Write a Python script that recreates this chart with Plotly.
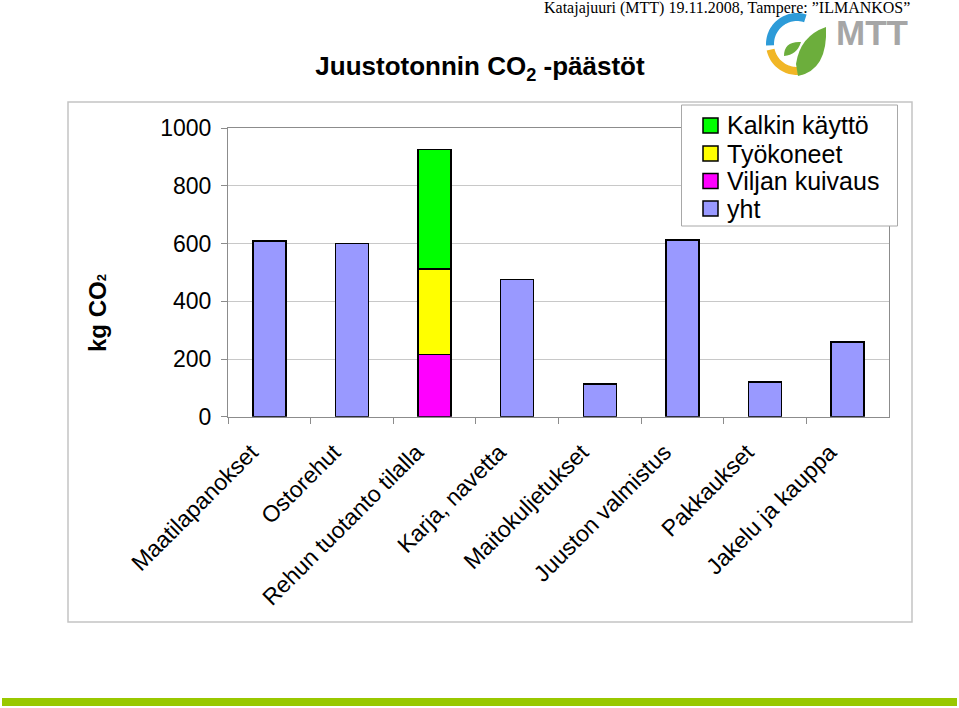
import math
import plotly.graph_objects as go

W, H = 959, 708

categories = ["Maatilapanokset", "Ostorehut", "Rehun tuotanto tilalla", "Karja, navetta",
              "Maitokuljetukset", "Juuston valmistus", "Pakkaukset", "Jakelu ja kauppa"]
yht = [610, 600, None, 476, 113, 612, 120, 259]
viljan_kuivaus = [None, None, 216, None, None, None, None, None]
tyokoneet = [None, None, 296, None, None, None, None, None]
kalkin_kaytto = [None, None, 415, None, None, None, None, None]
y_ticks = [0, 200, 400, 600, 800, 1000]

series = [
    ("yht", yht, "#9999FF"),
    ("Viljan kuivaus", viljan_kuivaus, "#FF00FF"),
    ("Työkoneet", tyokoneet, "#FFFF00"),
    ("Kalkin käyttö", kalkin_kaytto, "#00FF00"),
]


def px(x):
    return x / W


def py(y):
    return 1 - y / H


fig = go.Figure()
for name, vals, col in series:
    fig.add_trace(go.Bar(x=categories, y=vals, name=name, marker_color=col,
                         marker_line=dict(color="#000000", width=1.5), showlegend=False))

FONT = "Arial, Liberation Sans, sans-serif"

fig.update_layout(
    width=W, height=H, margin=dict(l=0, r=0, t=0, b=0, pad=0, autoexpand=False),
    paper_bgcolor="white", plot_bgcolor="white",
    barmode="stack", bargap=0.6, showlegend=False,
    font=dict(family=FONT, color="#000000"),
    xaxis=dict(domain=[px(228), px(889)], automargin=False, showline=True,
               linecolor="#8C8C8C", linewidth=1,
               mirror=True, ticks="outside", tickson="boundaries", ticklen=6,
               tickcolor="#8C8C8C", tickangle=-45, tickfont=dict(size=23, family=FONT),
               ticklabelshift=-18, ticklabelstandoff=12,
               showgrid=False),
    yaxis=dict(domain=[py(416.7), py(128.3)], automargin=False, range=[0, 1000],
               tickvals=y_ticks,
               showline=True, linecolor="#8C8C8C", linewidth=1, mirror=True,
               ticks="outside", ticklen=6, tickcolor="#8C8C8C",
               tickfont=dict(size=23, family=FONT), ticklabelstandoff=5,
               showgrid=True, gridcolor="#C8C8C8", gridwidth=1, zeroline=False),
    title=dict(text="<b>Juustotonnin CO<sub>2</sub> -päästöt</b>", x=px(480), y=py(66),
               xanchor="center", yanchor="middle", xref="paper", yref="paper",
               automargin=False,
               font=dict(size=26, family=FONT, color="#000000")),
)

shapes = []
# outer chart frame
shapes.append(dict(type="rect", xref="paper", yref="paper", x0=px(68), x1=px(912),
                   y0=py(622), y1=py(102), line=dict(color="#C4C4C4", width=1.5),
                   fillcolor="rgba(0,0,0,0)", layer="below"))
# bottom green band
shapes.append(dict(type="rect", xref="paper", yref="paper", x0=px(2), x1=px(957),
                   y0=py(706), y1=py(698), line=dict(width=0), fillcolor="#99C800"))

# legend box (manual)
shapes.append(dict(type="rect", xref="paper", yref="paper", x0=px(681.5), x1=px(897.5),
                   y0=py(226), y1=py(105), line=dict(color="#A8A8A8", width=1),
                   fillcolor="white", layer="above"))
legend_items = [series[3], series[2], series[1], series[0]]
row_y = [125.5, 153.5, 181, 208.5]
annotations = []
for (name, _, col), yc in zip(legend_items, row_y):
    shapes.append(dict(type="rect", xref="paper", yref="paper", x0=px(703), x1=px(718),
                       y0=py(yc + 7.5), y1=py(yc - 7.5), line=dict(color="#000000", width=1.5),
                       fillcolor=col, layer="above"))
    annotations.append(dict(text=name, xref="paper", yref="paper", x=px(725), y=py(yc),
                            xanchor="left", yanchor="middle", showarrow=False,
                            font=dict(size=25, family=FONT, color="#000000")))


# MTT logo (decorative)
def arc(cx, cy, r_out, r_in, a0, a1, n=30):
    pts = []
    for i in range(n + 1):
        a = math.radians(a0 + (a1 - a0) * i / n)
        pts.append((cx + r_out * math.cos(a), cy - r_out * math.sin(a)))
    for i in range(n, -1, -1):
        a = math.radians(a0 + (a1 - a0) * i / n)
        pts.append((cx + r_in * math.cos(a), cy - r_in * math.sin(a)))
    return "M " + " L ".join(f"{px(x)},{py(y)}" for x, y in pts) + " Z"


shapes.append(dict(type="path", xref="paper", yref="paper", path=arc(797, 44, 31, 23, 72, 183),
                   fillcolor="#2D9BD8", line=dict(width=0)))
shapes.append(dict(type="path", xref="paper", yref="paper", path=arc(797, 44, 31, 23, 192, 282),
                   fillcolor="#F1B626", line=dict(width=0)))


def qpath(pts):
    s = f"M {px(pts[0][0])},{py(pts[0][1])}"
    i = 1
    while i < len(pts):
        c, e = pts[i], pts[i + 1]
        s += f" Q {px(c[0])},{py(c[1])} {px(e[0])},{py(e[1])}"
        i += 2
    return s + " Z"


shapes.append(dict(type="path", xref="paper", yref="paper",
                   path=qpath([(798, 76), (828, 70), (826, 27), (800, 36), (796, 64)]),
                   fillcolor="#6CAE3C", line=dict(width=0)))
shapes.append(dict(type="path", xref="paper", yref="paper",
                   path=qpath([(784, 56), (784, 41), (801, 42), (797, 55), (784, 56)]),
                   fillcolor="#6CAE3C", line=dict(width=0)))

annotations.append(dict(text="<b>MTT</b>", xref="paper", yref="paper", x=px(872), y=py(32),
                        xanchor="center", yanchor="middle", showarrow=False,
                        font=dict(size=35, family=FONT, color="#A6A6A6")))
annotations.append(dict(text="Katajajuuri (MTT) 19.11.2008, Tampere: ”ILMANKOS”",
                        xref="paper", yref="paper", x=px(912), y=py(8), xanchor="right",
                        yanchor="middle", showarrow=False,
                        font=dict(size=16, family="Times New Roman, Liberation Serif, serif",
                                  color="#000000")))
annotations.append(dict(text="<b>kg CO<span style='font-size:13px'>2</span></b>", xref="paper",
                        yref="paper", x=px(97), y=py(313), xanchor="center", yanchor="middle",
                        textangle=-90, showarrow=False,
                        font=dict(size=24, family=FONT, color="#000000")))

fig.update_layout(shapes=shapes, annotations=annotations)
fig.write_html("out.html")
